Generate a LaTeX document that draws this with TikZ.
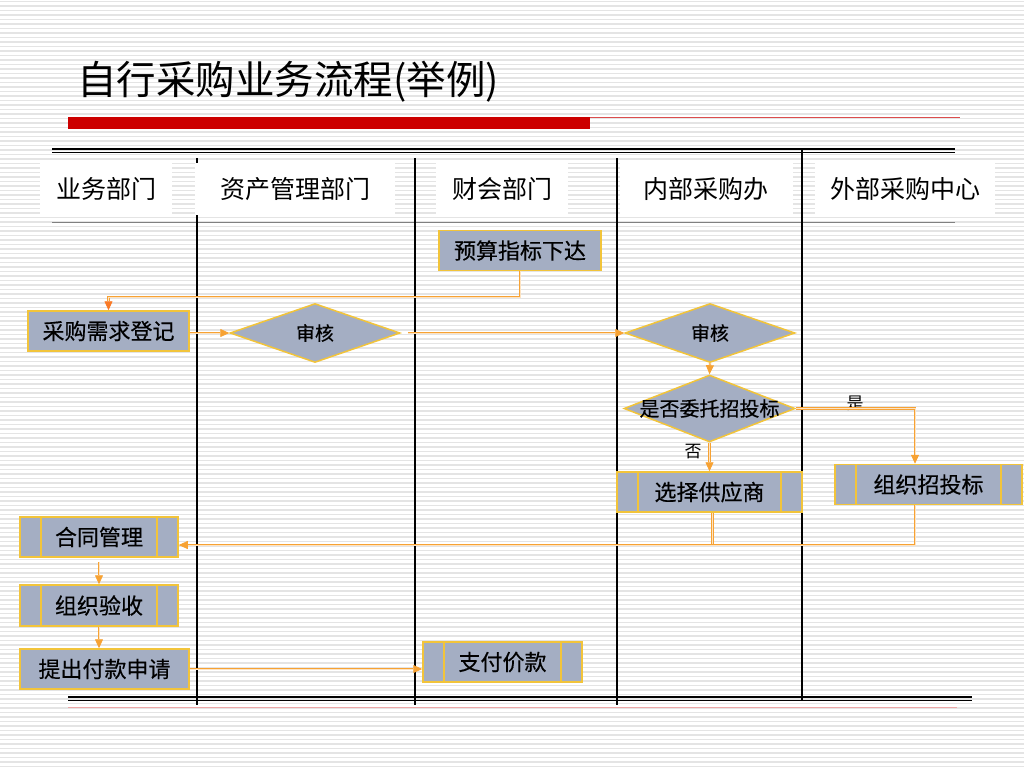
\documentclass[tikz,border=0pt]{standalone}
\usepackage{fontspec}
\setmainfont{Noto Sans CJK SC}
\newfontfamily\heavyfont[FakeBold=0.4]{Noto Sans CJK SC}
\usetikzlibrary{shapes,arrows.meta,positioning,calc}
\definecolor{box}{HTML}{A4AEC3}
\definecolor{rim}{HTML}{F2C43A}
\definecolor{flow}{HTML}{F7A233}
\definecolor{bar}{HTML}{CC0000}
\definecolor{stripe}{HTML}{E4E4E4}

\begin{document}
\begin{tikzpicture}
   [x=1pt,y=-1pt,
   bgline/.style={draw=stripe,line width=1.5pt},
   lane/.style={draw=black,line width=1.1pt},
   hdr/.style={fill=white,font=\fontsize{25}{30}\selectfont,minimum
   height=52pt,inner sep=0pt},
   task/.style={rectangle,draw=rim,fill=box,line width=1.5pt,
   font=\heavyfont\fontsize{22}{26}\selectfont,minimum height=40pt,inner sep=0pt},
   proc/.style={task,path picture={\draw[rim,line width=1.5pt]
   ([xshift=21pt]path picture bounding box.north west) --
   ([xshift=21pt]path picture bounding box.south west)
   ([xshift=-21pt]path picture bounding box.north east) --
   ([xshift=-21pt]path picture bounding box.south east);}},
   decision/.style={diamond,draw=rim,fill=box,line width=1.5pt,inner sep=0pt,
   minimum width=170pt,minimum height=59pt},
   dtext/.style={font=\heavyfont\fontsize{19}{22}\selectfont,inner sep=0pt},
   tag/.style={font=\fontsize{17}{20}\selectfont,inner sep=1pt},
   fedge/.style={draw=flow,double=flow!30,double distance=0.7pt,line width=0.8pt,
   -{Triangle[length=9pt,width=8pt]}},
   fline/.style={draw=flow,double=flow!30,double distance=0.7pt,line width=0.8pt}]
%%
\newcommand{\xybudget}{(520,250.5)}
\newcommand{\xyreq}{(108.5,331)}
\newcommand{\xychka}{(315,333)}
\newcommand{\xychkb}{(710,333)}
\newcommand{\xyask}{(709.5,408.5)}
\newcommand{\xysel}{(709.5,492)}
\newcommand{\xybid}{(928.5,484.5)}
\newcommand{\xycon}{(99,537)}
\newcommand{\xyacc}{(99,605.5)}
\newcommand{\xypreq}{(104.5,669)}
\newcommand{\xypay}{(502.5,662)}
%%
\useasboundingbox (0,0) rectangle (1024,768);
%% background stripes
\foreach \y in {1.5,6,...,768} \draw[bgline] (0,\y) -- (1024,\y);
%%
\node (title) [anchor=west,font=\fontsize{39.5}{46}\selectfont,inner sep=0pt]
at (77,82) {自行采购业务流程(举例)};
\fill[bar] (68,117) rectangle (590,129);
\draw[bar!70,line width=1pt] (590,117.5) -- (960,117.5);
%% lanes
\draw[black,line width=2pt] (52,149) -- (955,149);
\draw[black,line width=0.9pt] (52,152.5) -- (955,152.5);
\draw[gray,line width=0.8pt] (52,222) -- (955,222);
\draw[black,line width=2pt] (68,697) -- (972,697);
\draw[black,line width=0.9pt] (68,700.5) -- (972,700.5);
\draw[bar!35,line width=0.8pt] (68,707) -- (957,707);
\foreach \x in {197,415,617} \draw[lane] (\x,158) -- (\x,705);
\draw[lane] (802,150) -- (802,700);
%%
\node (h1) [hdr,minimum width=132pt] at (106,189) {业务部门};
\node (h2) [hdr,minimum width=200pt] at (295,189) {资产管理部门};
\node (h3) [hdr,minimum width=132pt] at (502,189) {财会部门};
\node (h4) [hdr,minimum width=173pt] at (706,189) {内部采购办};
\node (h5) [hdr,minimum width=180pt] at (905,189) {外部采购中心};
%%
\node (budget) [task,minimum width=162pt] at \xybudget {预算指标下达};
\node (req) [task,minimum width=161pt] at \xyreq {采购需求登记};
\node (chka) [decision,label={[dtext]center:审核}] at \xychka {};
\node (chkb) [decision,label={[dtext]center:审核}] at \xychkb {};
\node (ask) [decision,minimum width=171pt,minimum height=67pt,
label={[dtext,font=\heavyfont\fontsize{20}{24}\selectfont]center:是否委托招投标}] at \xyask {};
\node (sel) [proc,minimum width=185pt] at \xysel {选择供应商};
\node (bid) [proc,minimum width=187pt] at \xybid {组织招投标};
\node (con) [proc,minimum width=158pt] at \xycon {合同管理};
\node (acc) [proc,minimum width=158pt,minimum height=41pt] at \xyacc {组织验收};
\node (preq) [task,minimum width=169pt] at \xypreq {提出付款申请};
\node (pay) [proc,minimum width=159pt] at \xypay {支付价款};
%%
\node (yes) [tag] at (855,403) {是};
\node (no) [tag] at (693,452) {否};
%%
\coordinate (mrg) at ([yshift=-8pt]con.east);
\coordinate (bidin) at ([xshift=-13.5pt]bid.north);
\coordinate (bidout) at ([xshift=-13.5pt]bid.south);
\draw[fedge,-{Triangle[length=9pt,width=8pt,color=flow!75!red]}]
(budget.south) -- ++(0,26) -| (req.north);
\draw[fedge] (req.east |- chka.west) -- (chka.west);
\draw[fedge,shorten <=7pt] (chka.east) -- (chkb.west);
\draw[fedge] (chkb.south) -- (ask.north);
\draw[fedge] (ask.south) -- (sel.north);
\draw[fedge] (ask.east) -| (bidin);
\draw[fline] ([xshift=3pt]sel.south) -- ([xshift=3pt]sel.south |- mrg);
\draw[fedge] (bidout) |- (mrg);
\draw[fedge,shorten <=4pt] (con.south) -- (acc.north);
\draw[fedge] (acc.south) -- (acc.south |- preq.north);
\draw[fedge] (preq.east) -- (preq.east -| pay.west);
\end{tikzpicture}
\end{document}
